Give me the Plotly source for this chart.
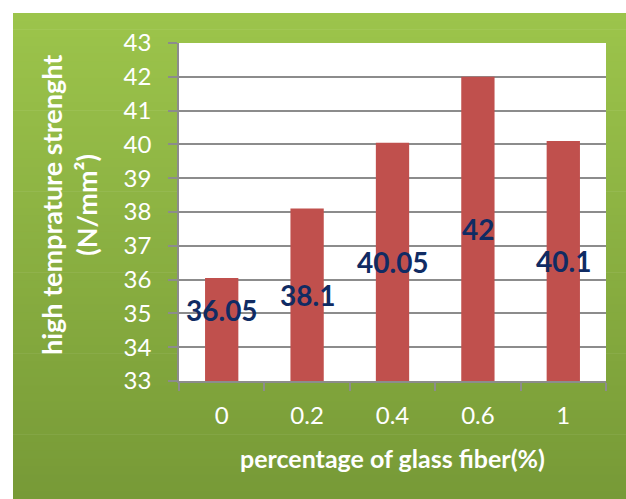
import plotly.graph_objects as go

categories = ["0", "0.2", "0.4", "0.6", "1"]
values = [36.05, 38.1, 40.05, 42, 40.1]
label_texts = ["36.05", "38.1", "40.05", "42", "40.1"]
y_ticks = list(range(33, 44))

W, H = 626, 499
L, R, T, B = 179, 20, 43, 118
PW, PH = W - L - R, H - T - B

def px_x(p):
    return (p - L) / PW

def px_y(p):
    return (H - B - p) / PH

FONT = "Lato"

fig = go.Figure()
fig.add_trace(go.Bar(
    x=categories, y=values,
    marker=dict(color="#C0504D", line=dict(width=0)),
    width=0.39, hoverinfo="skip",
))

# gradient green background panel
shapes = []
top_c = (0x9C, 0xC4, 0x4B)
bot_c = (0x77, 0x9A, 0x37)
n = 60
gx0, gx1, gy0, gy1 = 13, 626, 13, 499
for i in range(n):
    t = i / (n - 1)
    c = tuple(round(top_c[k] + (bot_c[k] - top_c[k]) * t) for k in range(3))
    ya = gy0 + (gy1 - gy0) * i / n
    yb = gy0 + (gy1 - gy0) * (i + 1) / n + 0.6
    shapes.append(dict(type="rect", xref="paper", yref="paper", layer="below",
                       x0=px_x(gx0), x1=px_x(gx1), y0=px_y(min(yb, gy1)), y1=px_y(ya),
                       fillcolor="rgb(%d,%d,%d)" % c, line=dict(width=0)))
# white plot area
shapes.append(dict(type="rect", xref="paper", yref="paper", layer="below",
                   x0=0, x1=1, y0=0, y1=1, fillcolor="white", line=dict(width=0)))

annotations = []
offsets = [19, 0, 0, 0, 0]
for i, (v, txt, off) in enumerate(zip(values, label_texts, offsets)):
    annotations.append(dict(x=i, y=(33 + v) / 2, xref="x", yref="y", text=txt,
                            showarrow=False, yshift=off,
                            font=dict(family=FONT, size=28, color="#102B63", weight="bold")))
annotations.append(dict(x=px_x(69), y=px_y(205), xref="paper", yref="paper",
                        text="high temprature strenght<br>(N/mm²)", textangle=-90,
                        showarrow=False, xanchor="center", yanchor="middle",
                        font=dict(family=FONT, size=27, color="white", weight="bold")))
annotations.append(dict(x=px_x(392), y=px_y(458), xref="paper", yref="paper",
                        text="percentage of glass fiber(%)", showarrow=False,
                        xanchor="center", yanchor="middle",
                        font=dict(family=FONT, size=25, color="white", weight="bold")))

fig.update_layout(
    width=W, height=H,
    margin=dict(l=L, r=R, t=T, b=B, pad=0),
    paper_bgcolor="white", plot_bgcolor="rgba(0,0,0,0)",
    showlegend=False, shapes=shapes, annotations=annotations,
)
fig.update_yaxes(range=[33, 43], tickvals=y_ticks, ticktext=[str(v) for v in y_ticks],
                 showgrid=True, gridcolor="#8C8C8C", gridwidth=1.5,
                 showline=True, linecolor="#8C8C8C", linewidth=1.5,
                 ticks="outside", ticklen=9, tickcolor="#8C8C8C", tickwidth=1.5,
                 ticklabelstandoff=12, zeroline=False,
                 tickfont=dict(family=FONT, size=24, color="white"))
fig.update_xaxes(showgrid=False, showline=True, linecolor="#8C8C8C", linewidth=1.5,
                 ticks="outside", tickson="boundaries", ticklen=8, tickcolor="#8C8C8C",
                 tickwidth=1.5, ticklabelstandoff=12,
                 tickfont=dict(family=FONT, size=24, color="white"))

fig.write_html("out.html", config={"displayModeBar": False},
               post_script="document.body.style.margin='0';document.body.style.overflow='hidden';")
